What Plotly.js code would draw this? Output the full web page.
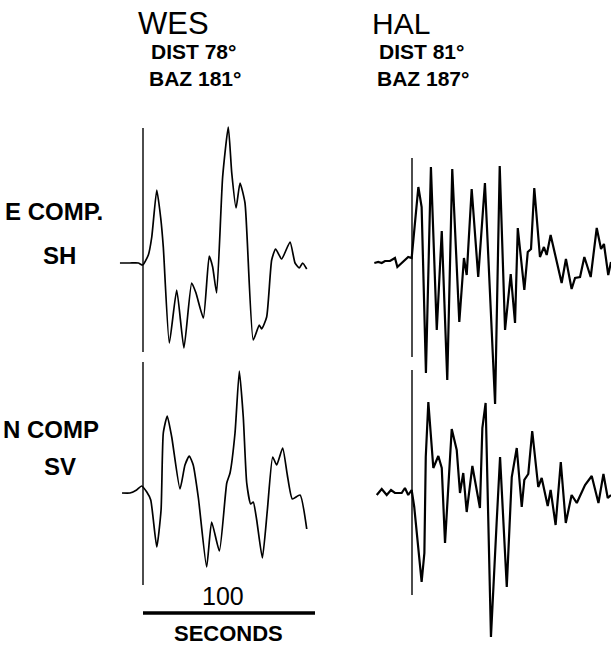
<!DOCTYPE html>
<html>
<head>
<meta charset="utf-8">
<script src="https://cdn.plot.ly/plotly-3.0.1.min.js"></script>
<style>html,body{margin:0;padding:0;background:#fff;}#chart{width:611px;height:646px;}</style>
</head>
<body>
<div id="chart"></div>
<script>
// Time in seconds relative to the marked onset; amplitude in relative units (up positive)
const wesE_t = [-13.4,-7.6,-2.7,-0.2,3.1,5.1,8.0,10.3,11.8,15.3,19.6,23.8,28.3,30.8,35.1,38.5,40.5,42.8,46.3,49.6,51.6,54.1,56.4,59.3,64.1,67.6,69.0,71.9,74.8,77.1,80.6,85.5,88.4,90.9,92.8,95.2];
const wesE_a = [0.1,0.1,0.1,-0.1,0.9,2.7,7.4,4.6,1.7,-7.9,-2.6,-8.4,-1.9,-2.9,-5.4,0.8,-0.3,-2.9,8.7,13.7,9.1,5.6,8.1,6.1,-7.6,-6.1,-6.5,-5.3,0.4,1.5,0.5,2.2,0.1,-0.4,0.1,-0.5];

const wesN_t = [-12.2,-7.6,-3.7,-0.8,2.2,4.5,8.0,10.5,11.8,14.1,16.7,21.5,24.4,26.9,29.2,32.2,37.0,39.9,44.4,48.7,50.6,53.5,56.0,58.3,60.3,62.6,64.1,66.1,69.4,72.3,75.4,77.7,81.2,83.9,86.8,91.3,95.2];
const wesN_a = [-0.2,-0.2,0.1,0.5,-0.1,-0.9,-5.6,-1.9,5.8,7.5,5.4,0.2,2.6,3.5,2.6,-0.7,-7.6,-3.1,-6.0,0.8,1.8,5.8,12.0,7.4,0.8,-1.3,-1.1,-2.9,-6.7,-1.9,3.4,2.6,4.3,1.6,-0.8,-0.4,-3.8];

const halE_t = [-21.9,-19.6,-17.6,-15.7,-12.8,-9.9,-8.5,-6.0,-2.2,-0.2,0.8,3.7,5.6,8.1,11.0,14.4,17.3,20.5,23.4,27.5,30.2,31.8,34.7,38.5,42.4,48.3,51.0,54.1,57.4,59.9,61.5,65.3,67.3,69.2,71.1,74.4,76.7,78.3,80.6,84.1,87.0,89.5,92.8,94.8,97.7,100.2,103.9,107.4,109.9,111.6,114.1,115.7];
const halE_a = [-0.1,0.0,-0.1,0.1,0.1,0.4,-0.5,-0.1,0.5,0.4,2.2,7.5,5.5,-11.1,9.5,-6.8,3.1,-11.8,9.3,-6.0,0.4,-1.3,7.3,-1.5,7.9,-14.2,9.6,-6.8,-1.2,-6.1,3.4,-2.8,1.0,1.3,7.4,0.5,1.5,0.7,2.7,-0.1,-2.1,0.3,-2.7,-1.6,-1.5,0.5,-1.5,3.4,1.3,1.8,-1.3,0.0];

const halN_t = [-20.5,-17.6,-14.7,-12.2,-9.9,-6.0,-4.1,-2.2,-0.2,1.3,5.6,7.2,8.0,9.5,12.4,15.3,17.3,19.2,23.1,26.0,27.9,29.8,31.8,35.1,39.5,40.9,42.8,45.9,49.2,51.2,55.1,58.0,60.9,63.8,65.3,67.6,69.9,73.4,75.4,78.9,80.6,83.5,86.5,89.4,92.8,95.8,100.6,104.5,108.4,111.3,113.8,115.7];
const halN_a = [-0.3,0.3,-0.3,0.2,-0.1,-0.1,0.4,-0.3,0.2,-1.5,-9.0,-6.1,3.5,9.0,2.4,3.6,2.4,-5.1,6.3,4.2,-0.1,1.9,-2.0,2.6,-1.6,6.4,8.9,-14.5,-3.1,3.5,-9.5,1.5,4.4,-1.5,1.2,1.8,6.1,0.5,1.4,-1.4,0.2,-3.3,3.0,-3.1,-0.3,-1.1,0.7,1.6,-1.1,1.8,-0.6,-0.3];

// onset marker extents (amplitude units) for each record
const onsetWesE = [13.6,-8.8];
const onsetWesN = [12.9,-9.4];
const onsetHalE = [10.4,-9.5];
const onsetHalN = [12.2,-10.3];

const stations = ["WES","HAL"];
const distLabels = ["DIST 78°","DIST 81°"];
const bazLabels = ["BAZ 181°","BAZ 187°"];
const compLabels = ["E COMP.","SH","N COMP","SV"];
const scaleSeconds = [0,100];
const scaleLabel = ["100","SECONDS"];

// ---------- layout geometry ----------
const W = 611, H = 646, PXS = 1.72, PXA = 10;
const onsetPx = {wes:143, hal:412};
const basePx = [264, 491, 262, 492]; // WES E, WES N, HAL E, HAL N
const px = x => x / W, py = y => 1 - y / H;

function xr(on){ return [(0 - on)/PXS, (W - on)/PXS]; }
function yr(b){ return [(b - H)/PXA, b/PXA]; }

const lineBlack = (w) => ({color:'#000', width:w});
const traces = [
  {x:wesE_t, y:wesE_a, xaxis:'x', yaxis:'y', mode:'lines', line:Object.assign(lineBlack(1.7),{shape:'spline',smoothing:0.5})},
  {x:[0,0], y:onsetWesE, xaxis:'x', yaxis:'y', mode:'lines', line:lineBlack(1.4)},
  {x:wesN_t, y:wesN_a, xaxis:'x2', yaxis:'y2', mode:'lines', line:Object.assign(lineBlack(1.7),{shape:'spline',smoothing:0.5})},
  {x:[0,0], y:onsetWesN, xaxis:'x2', yaxis:'y2', mode:'lines', line:lineBlack(1.4)},
  {x:halE_t, y:halE_a, xaxis:'x3', yaxis:'y3', mode:'lines', line:lineBlack(2.2)},
  {x:[0,0], y:onsetHalE, xaxis:'x3', yaxis:'y3', mode:'lines', line:lineBlack(1.4)},
  {x:halN_t, y:halN_a, xaxis:'x4', yaxis:'y4', mode:'lines', line:lineBlack(2.2)},
  {x:[0,0], y:onsetHalN, xaxis:'x4', yaxis:'y4', mode:'lines', line:lineBlack(1.4)}
];

const hidden = {visible:false, fixedrange:true, domain:[0,1]};
const layout = {
  width:W, height:H, margin:{l:0,r:0,t:0,b:0}, paper_bgcolor:'#fff', plot_bgcolor:'rgba(0,0,0,0)',
  showlegend:false,
  font:{family:'Liberation Sans, Arial, sans-serif', color:'#000'},
  xaxis:Object.assign({}, hidden, {range:xr(onsetPx.wes), anchor:'y'}),
  yaxis:Object.assign({}, hidden, {range:yr(basePx[0]), anchor:'x'}),
  xaxis2:Object.assign({}, hidden, {range:xr(onsetPx.wes), anchor:'y2'}),
  yaxis2:Object.assign({}, hidden, {range:yr(basePx[1]), anchor:'x2'}),
  xaxis3:Object.assign({}, hidden, {range:xr(onsetPx.hal), anchor:'y3'}),
  yaxis3:Object.assign({}, hidden, {range:yr(basePx[2]), anchor:'x3'}),
  xaxis4:Object.assign({}, hidden, {range:xr(onsetPx.hal), anchor:'y4'}),
  yaxis4:Object.assign({}, hidden, {range:yr(basePx[3]), anchor:'x4'}),
  shapes:[
    {type:'line', xref:'x2', yref:'paper', x0:scaleSeconds[0], x1:scaleSeconds[1], y0:py(613), y1:py(613), line:{color:'#000', width:3.5}}
  ],
  annotations:[]
};

function ann(text, x, y, size, bold){
  layout.annotations.push({text: bold ? '<b>'+text+'</b>' : text, xref:'paper', yref:'paper', x:px(x), y:py(y),
    xanchor:'center', yanchor:'middle', showarrow:false, font:{size:size, color:'#000', family:'Liberation Sans, Arial, sans-serif'}});
}
ann(stations[0], 173, 24, 31, false);
ann(stations[1], 401, 24, 30, false);
ann(distLabels[0], 193, 51, 21, true);
ann(distLabels[1], 421, 51, 21, true);
ann(bazLabels[0], 195, 79, 21, true);
ann(bazLabels[1], 423, 79, 21, true);
ann(compLabels[0], 54, 211, 24, true);
ann(compLabels[1], 60, 255, 24, true);
ann(compLabels[2], 51, 429, 24, true);
ann(compLabels[3], 60, 466, 24, true);
ann(scaleLabel[0], 223, 596, 25, false);
ann(scaleLabel[1], 228, 633, 22, true);

Plotly.newPlot('chart', traces, layout, {staticPlot:true, displayModeBar:false});
</script>
</body>
</html>
